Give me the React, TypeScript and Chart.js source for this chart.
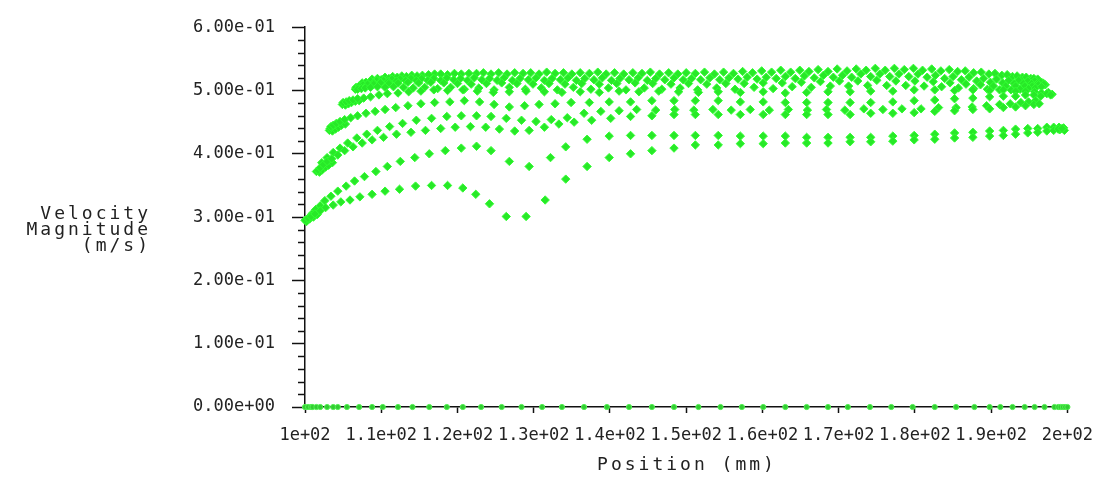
import React, { useEffect, useRef } from "react";
import { Chart, registerables } from "chart.js";
Chart.register(...registerables);

type P = [number, number];

// ---- axis ticks / labels ----
const xTickValues = [100, 110, 120, 130, 140, 150, 160, 170, 180, 190, 200];
const xTickLabels = ["1e+02", "1.1e+02", "1.2e+02", "1.3e+02", "1.4e+02", "1.5e+02", "1.6e+02", "1.7e+02", "1.8e+02", "1.9e+02", "2e+02"];
const yTickValues = [0, 0.1, 0.2, 0.3, 0.4, 0.5, 0.6];
const yTickLabels = ["0.00e+00", "1.00e-01", "2.00e-01", "3.00e-01", "4.00e-01", "5.00e-01", "6.00e-01"];
const xTitle = "Position (mm)";
const yTitleLines = ["Velocity", "Magnitude", "(m/s)"];

// ---- data: wall row (velocity = 0) ----
const wallX = [100.0, 100.4, 100.8, 101.0, 101.5, 102.0, 102.9, 103.7, 104.3, 105.5, 107.1, 108.8, 110.2, 112.2, 114.1, 116.3, 118.6, 120.7, 123.1, 125.8, 128.4, 131.1, 133.7, 136.6, 139.6, 142.5, 145.5, 148.4, 151.6, 154.5, 157.3, 160.1, 163.0, 165.8, 168.6, 171.2, 174.1, 176.9, 179.7, 182.6, 185.4, 187.8, 189.8, 191.2, 192.8, 194.4, 195.7, 197.0, 198.3, 198.8, 199.1, 199.4, 199.7, 200.0];
const wallVelocity = 0;

// ---- data: rows of points (position mm, velocity m/s) ----
const row1: P[] = [[108.8,0.518],[109.5,0.519],[110.5,0.521],[111.5,0.522],[112.7,0.523],[114.0,0.524],[115.4,0.524],[117.0,0.526],[118.7,0.525],[120.5,0.526],[122.5,0.527],[124.4,0.526],[126.5,0.526],[128.6,0.527],[130.7,0.526],[132.8,0.527],[135.0,0.526],[137.3,0.527],[139.5,0.526],[141.8,0.526],[144.2,0.527],[146.5,0.526],[148.9,0.526],[151.2,0.527],[153.7,0.526],[156.2,0.527],[158.7,0.528],[161.2,0.529],[163.7,0.529],[166.1,0.530],[168.6,0.530],[171.1,0.531],[173.6,0.532],[176.1,0.532],[178.6,0.533],[181.0,0.532],[183.4,0.531],[185.6,0.530],[187.7,0.528],[189.7,0.526],[191.4,0.524],[192.8,0.522],[194.1,0.521],[195.2,0.519],[196.1,0.518]];

const row1b: P[] = [[109.1,0.514],[110.0,0.517],[111.0,0.519],[112.1,0.521],[113.3,0.522],[114.7,0.523],[116.2,0.525],[117.8,0.526],[119.6,0.527],[121.5,0.527],[123.4,0.528],[125.4,0.528],[127.5,0.528],[129.6,0.528],[131.7,0.529],[133.9,0.528],[136.1,0.528],[138.4,0.529],[140.6,0.528],[143.0,0.528],[145.3,0.529],[147.7,0.528],[150.0,0.528],[152.4,0.529],[154.9,0.529],[157.4,0.530],[159.9,0.531],[162.4,0.532],[164.9,0.532],[167.3,0.533],[169.8,0.534],[172.3,0.534],[174.8,0.535],[177.3,0.535],[179.8,0.535],[182.2,0.534],[184.5,0.533],[186.6,0.531],[188.7,0.529],[190.5,0.527],[192.1,0.525],[193.4,0.523],[194.6,0.521],[195.6,0.519]];

const row2: P[] = [[107.5,0.512],[108.0,0.513],[108.6,0.515],[109.4,0.516],[110.3,0.516],[111.4,0.518],[112.5,0.518],[113.9,0.519],[115.3,0.519],[116.9,0.519],[118.6,0.520],[120.4,0.519],[122.2,0.520],[124.2,0.519],[126.1,0.520],[128.2,0.519],[130.3,0.520],[132.4,0.519],[134.5,0.520],[136.7,0.519],[139.0,0.520],[141.3,0.519],[143.7,0.520],[146.0,0.519],[148.4,0.520],[150.7,0.519],[153.1,0.520],[155.6,0.520],[158.0,0.521],[160.5,0.521],[163.0,0.522],[165.5,0.523],[168.0,0.524],[170.5,0.524],[172.9,0.526],[175.4,0.526],[177.9,0.526],[180.4,0.526],[182.7,0.524],[185.0,0.522],[187.1,0.521],[189.0,0.519],[190.7,0.518],[192.3,0.516],[193.6,0.516],[194.8,0.515],[195.7,0.515],[196.5,0.513]];

const row2b: P[] = [[107.8,0.508],[108.3,0.510],[109.0,0.512],[109.9,0.513],[110.9,0.514],[112.0,0.515],[113.2,0.516],[114.6,0.516],[116.1,0.516],[117.8,0.516],[119.5,0.517],[121.3,0.516],[123.2,0.517],[125.2,0.516],[127.2,0.516],[129.3,0.517],[131.4,0.516],[133.5,0.517],[135.6,0.516],[137.9,0.517],[140.2,0.516],[142.5,0.517],[144.9,0.516],[147.2,0.517],[149.6,0.517],[151.9,0.517],[154.4,0.517],[156.8,0.518],[159.3,0.518],[161.8,0.519],[164.3,0.519],[166.8,0.520],[169.3,0.521],[171.7,0.521],[174.2,0.522],[176.7,0.522],[179.2,0.522],[181.6,0.521],[183.9,0.519],[186.1,0.517],[188.1,0.515],[189.9,0.513],[191.5,0.512],[193.0,0.511],[194.2,0.511],[195.3,0.511],[196.1,0.511]];

const row3: P[] = [[106.7,0.505],[107.1,0.507],[107.6,0.509],[108.2,0.510],[109.0,0.510],[109.9,0.512],[111.0,0.511],[112.2,0.512],[113.5,0.513],[114.9,0.512],[116.5,0.513],[118.2,0.512],[120.0,0.511],[121.8,0.510],[123.8,0.511],[125.8,0.512],[127.8,0.511],[129.9,0.510],[132.0,0.511],[134.1,0.510],[136.3,0.511],[138.6,0.510],[140.9,0.511],[143.3,0.512],[145.6,0.511],[148.0,0.510],[150.3,0.511],[152.7,0.510],[155.2,0.511],[157.6,0.511],[160.1,0.512],[162.6,0.512],[165.1,0.513],[167.6,0.514],[170.1,0.515],[172.5,0.515],[175.0,0.516],[177.5,0.515],[180.0,0.515],[182.4,0.514],[184.6,0.512],[186.7,0.510],[188.6,0.509],[190.3,0.507],[191.9,0.507],[193.2,0.507],[194.4,0.507],[195.4,0.507],[196.2,0.509],[196.9,0.510]];

const row3b: P[] = [[106.9,0.502],[107.4,0.503],[107.9,0.504],[108.6,0.505],[109.5,0.506],[110.5,0.505],[111.6,0.506],[112.9,0.505],[114.2,0.504],[115.7,0.505],[117.4,0.503],[119.1,0.505],[120.9,0.502],[122.8,0.504],[124.8,0.501],[126.8,0.505],[128.9,0.502],[131.0,0.504],[133.1,0.501],[135.2,0.505],[137.5,0.502],[139.8,0.504],[142.1,0.501],[144.5,0.504],[146.8,0.502],[149.2,0.504],[151.5,0.501],[154.0,0.504],[156.4,0.502],[158.9,0.505],[161.4,0.503],[163.9,0.506],[166.4,0.505],[168.9,0.507],[171.3,0.507],[173.8,0.508],[176.3,0.508],[178.8,0.508],[181.2,0.507],[183.5,0.506],[185.7,0.504],[187.7,0.503],[189.5,0.502],[191.1,0.501],[192.6,0.501],[193.8,0.502],[194.9,0.503],[195.8,0.504],[196.6,0.506]];

const row4: P[] = [[105.0,0.481],[105.4,0.482],[105.8,0.484],[106.3,0.485],[106.9,0.487],[107.7,0.488],[108.6,0.490],[109.7,0.493],[110.8,0.495],[112.2,0.496],[113.6,0.498],[115.2,0.499],[116.9,0.501],[118.7,0.500],[120.7,0.501],[122.6,0.499],[124.7,0.497],[126.8,0.498],[129.0,0.499],[131.4,0.498],[133.7,0.497],[136.1,0.498],[138.6,0.497],[141.2,0.499],[143.8,0.498],[146.4,0.499],[149.0,0.498],[151.6,0.497],[154.2,0.498],[157.1,0.497],[160.1,0.498],[163.0,0.496],[165.8,0.497],[168.6,0.498],[171.5,0.498],[174.2,0.499],[177.1,0.499],[179.9,0.501],[182.6,0.501],[185.2,0.500],[187.6,0.501],[189.8,0.500],[191.6,0.501],[193.2,0.499],[194.5,0.499],[195.7,0.498],[196.6,0.496],[197.3,0.495],[197.8,0.493]];

const row5: P[] = [[103.3,0.440],[103.4,0.443],[103.7,0.445],[104.1,0.448],[104.6,0.451],[105.2,0.454],[106.0,0.457],[106.9,0.460],[108.0,0.464],[109.2,0.467],[110.5,0.470],[111.9,0.473],[113.5,0.476],[115.2,0.479],[117.0,0.481],[119.0,0.482],[120.9,0.484],[122.9,0.482],[124.8,0.478],[126.8,0.474],[128.8,0.476],[130.7,0.478],[132.8,0.479],[134.9,0.481],[137.3,0.481],[139.9,0.482],[142.7,0.482],[145.5,0.484],[148.4,0.484],[151.2,0.484],[154.2,0.484],[157.1,0.482],[160.1,0.482],[163.0,0.481],[165.8,0.481],[168.6,0.481],[171.5,0.481],[174.2,0.481],[177.1,0.482],[179.9,0.484],[182.6,0.485],[185.2,0.487],[187.6,0.488],[189.8,0.490],[191.6,0.491],[193.2,0.491],[194.5,0.493],[195.6,0.493],[196.5,0.491]];

const row6: P[] = [[102.2,0.386],[102.9,0.394],[103.7,0.402],[104.6,0.409],[105.6,0.417],[106.8,0.425],[108.1,0.431],[109.5,0.437],[111.1,0.443],[112.8,0.448],[114.6,0.453],[116.6,0.456],[118.6,0.459],[120.5,0.460],[122.5,0.460],[124.4,0.459],[126.4,0.456],[128.4,0.453],[130.3,0.451],[132.3,0.454],[134.4,0.457],[136.6,0.464],[138.8,0.467],[141.2,0.468],[143.5,0.470],[146.0,0.469],[148.5,0.470],[151.0,0.469],[153.5,0.470],[155.9,0.469],[158.4,0.470],[160.9,0.469],[163.4,0.470],[165.9,0.469],[168.4,0.470],[170.8,0.469],[173.3,0.471],[175.8,0.470],[178.3,0.471],[180.8,0.471],[183.1,0.473],[185.4,0.473],[187.5,0.474],[189.4,0.476],[191.1,0.478],[192.5,0.479],[193.9,0.481],[194.9,0.482],[195.8,0.484]];

const row7: P[] = [[101.7,0.374],[102.0,0.378],[102.4,0.383],[102.9,0.388],[103.5,0.392],[104.3,0.398],[105.2,0.405],[106.3,0.411],[107.5,0.417],[108.8,0.422],[110.3,0.426],[112.0,0.431],[113.9,0.434],[115.8,0.437],[117.8,0.440],[119.7,0.442],[121.7,0.443],[123.7,0.442],[125.5,0.439],[127.5,0.436],[129.4,0.437],[131.4,0.442],[133.3,0.447],[135.3,0.450],[137.6,0.453],[140.1,0.456],[142.7,0.459],[145.5,0.460],[148.4,0.462],[151.2,0.462],[154.2,0.462],[157.1,0.462],[160.1,0.462],[163.0,0.462],[165.8,0.462],[168.6,0.462],[171.5,0.462],[174.2,0.464],[177.1,0.464],[179.9,0.465],[182.6,0.467],[185.2,0.468],[187.6,0.470],[189.8,0.471],[191.6,0.473],[193.2,0.474],[194.5,0.476],[195.6,0.478],[196.3,0.479]];

const row8: P[] = [[100.5,0.299],[100.9,0.305],[101.4,0.312],[102.0,0.318],[102.6,0.326],[103.4,0.333],[104.3,0.341],[105.4,0.349],[106.5,0.357],[107.8,0.364],[109.3,0.372],[110.8,0.380],[112.5,0.388],[114.4,0.394],[116.3,0.400],[118.4,0.405],[120.5,0.409],[122.5,0.412],[124.4,0.405],[126.8,0.388],[129.4,0.380],[132.2,0.394],[134.2,0.411],[137.0,0.423],[139.9,0.428],[142.7,0.429],[145.5,0.429],[148.4,0.429],[151.2,0.429],[154.2,0.429],[157.1,0.428],[160.1,0.428],[163.0,0.428],[165.8,0.426],[168.6,0.426],[171.5,0.426],[174.2,0.426],[177.1,0.428],[179.9,0.429],[182.6,0.431],[185.2,0.433],[187.6,0.434],[189.8,0.436],[191.6,0.437],[193.2,0.439],[194.8,0.440],[196.1,0.440],[197.3,0.442],[198.2,0.442],[198.9,0.442]];

const row9: P[] = [[100.0,0.295],[100.4,0.298],[100.8,0.301],[101.3,0.305],[102.0,0.310],[102.7,0.315],[103.7,0.319],[104.7,0.324],[105.9,0.327],[107.2,0.332],[108.8,0.336],[110.5,0.341],[112.4,0.344],[114.5,0.349],[116.6,0.350],[118.7,0.350],[120.7,0.346],[122.4,0.336],[124.2,0.321],[126.4,0.301],[129.0,0.301],[131.5,0.327],[134.2,0.360],[137.0,0.380],[139.9,0.394],[142.7,0.400],[145.5,0.405],[148.4,0.409],[151.2,0.414],[154.2,0.414],[157.1,0.416],[160.1,0.416],[163.0,0.417],[165.8,0.417],[168.6,0.417],[171.5,0.419],[174.2,0.419],[177.1,0.420],[179.9,0.422],[182.6,0.423],[185.2,0.425],[187.6,0.426],[189.8,0.428],[191.6,0.429],[193.2,0.431],[194.8,0.433],[196.1,0.434],[197.3,0.436],[198.2,0.437],[198.8,0.439],[199.3,0.440]];

// clustered points where the rows begin and end
const rowEnds: P[] = [[100.2,0.293],[100.6,0.297],[101.1,0.300],[101.6,0.304],[101.5,0.372],[101.9,0.371],[102.3,0.375],[102.7,0.379],[103.1,0.382],[103.6,0.386],[103.2,0.437],[103.6,0.436],[104.0,0.439],[104.4,0.442],[104.8,0.445],[105.3,0.447],[104.9,0.478],[105.3,0.477],[105.7,0.479],[106.1,0.481],[106.6,0.483],[107.1,0.484],[106.6,0.502],[107.0,0.503],[107.4,0.505],[107.9,0.507],[108.4,0.508],[196.8,0.512],[197.1,0.509],[197.5,0.497],[198.0,0.494],[199.0,0.438],[199.5,0.441],[199.6,0.437]];

const rows: P[][] = [row9, row8, row7, row6, row5, row4, row3b, row3, row2b, row2, row1b, row1, rowEnds];

const MONO = '"DejaVu Sans Mono", "Liberation Mono", monospace';
const INK = "#222";

const axesPlugin = {
  id: "fluentAxes",
  beforeDatasetsDraw(chart: any) {
    const { ctx, chartArea, scales } = chart;
    const y = scales.y;
    ctx.save();
    ctx.strokeStyle = "#111";
    ctx.lineWidth = 1.5;
    for (let k = 0; k <= 30; k++) {
      if (k % 5 === 0) continue;
      const py = Math.round(y.getPixelForValue(k * 0.02)) + 0.5;
      ctx.beginPath();
      ctx.moveTo(chartArea.left - 7, py);
      ctx.lineTo(chartArea.left, py);
      ctx.stroke();
    }
    ctx.restore();
  },
  afterDraw(chart: any) {
    const { ctx } = chart;
    ctx.save();
    ctx.fillStyle = INK;
    ctx.font = `18px ${MONO}`;
    (ctx as any).letterSpacing = "3px";
    ctx.textBaseline = "middle";
    ctx.textAlign = "right";
    const ys = [214, 230, 246];
    yTitleLines.forEach((t, i) => ctx.fillText(t, 151, ys[i]));
    ctx.textAlign = "center";
    ctx.fillText(xTitle, 687, 465);
    ctx.restore();
  },
};

export default function App() {
  const ref = useRef<HTMLCanvasElement>(null);
  useEffect(() => {
    const canvas = ref.current!;
    const markerStyle = {
      showLine: false,
      pointStyle: "rectRot",
      pointRadius: 4.2,
      pointBackgroundColor: "rgb(40,232,40)",
      pointBorderColor: "rgb(50,255,50)",
      pointBorderWidth: 1,
      clip: false as any,
    };
    const datasets: any[] = [
      {
        label: "wall",
        data: wallX.map((x) => ({ x, y: wallVelocity })),
        showLine: false,
        pointStyle: "circle",
        pointRadius: 2.6,
        pointBackgroundColor: "rgb(50,205,50)",
        pointBorderColor: "rgb(80,240,80)",
        pointBorderWidth: 1,
        clip: false,
      },
      ...rows.map((r, i) => ({
        label: "row" + i,
        data: r.map(([x, v]) => ({ x, y: v })),
        ...markerStyle,
      })),
    ];
    const chart = new Chart(canvas, {
      type: "scatter",
      data: { datasets },
      options: {
        animation: false,
        responsive: false,
        devicePixelRatio: 1,
        events: [],
        layout: { padding: { top: 20, right: 35, bottom: 0, left: 0 } },
        plugins: { legend: { display: false }, tooltip: { enabled: false } },
        scales: {
          x: {
            type: "linear",
            min: 100,
            max: 200,
            afterBuildTicks: (s: any) => {
              s.ticks = xTickValues.map((v) => ({ value: v }));
            },
            afterFit: (s: any) => {
              s.height = 70;
            },
            ticks: {
              autoSkip: false,
              maxRotation: 0,
              minRotation: 0,
              padding: 12,
              color: INK,
              font: { family: MONO, size: 17 },
              callback: (v: any) => xTickLabels[xTickValues.indexOf(Number(v))] ?? "",
            },
            grid: { drawOnChartArea: false, drawTicks: true, tickLength: 6, tickColor: "#111", tickWidth: 1.5 },
            border: { display: true, color: "#111", width: 1.5 },
          },
          y: {
            type: "linear",
            min: 0,
            max: 0.6,
            afterBuildTicks: (s: any) => {
              s.ticks = yTickValues.map((v) => ({ value: v }));
            },
            afterFit: (s: any) => {
              s.width = 305;
            },
            ticks: {
              padding: 17,
              color: INK,
              font: { family: MONO, size: 17 },
              callback: (v: any) => {
                const i = yTickValues.findIndex((t) => Math.abs(t - Number(v)) < 1e-9);
                return i >= 0 ? yTickLabels[i] : "";
              },
            },
            grid: { drawOnChartArea: false, drawTicks: true, tickLength: 13, tickColor: "#111", tickWidth: 1.5 },
            border: { display: true, color: "#111", width: 1.5 },
          },
        },
      } as any,
      plugins: [axesPlugin],
    });
    return () => chart.destroy();
  }, []);
  return (
    <div style={{ position: "absolute", left: 0, top: 0, width: 1105, height: 477, background: "#fff" }}>
      <canvas ref={ref} width={1105} height={477} style={{ display: "block" }} />
    </div>
  );
}
